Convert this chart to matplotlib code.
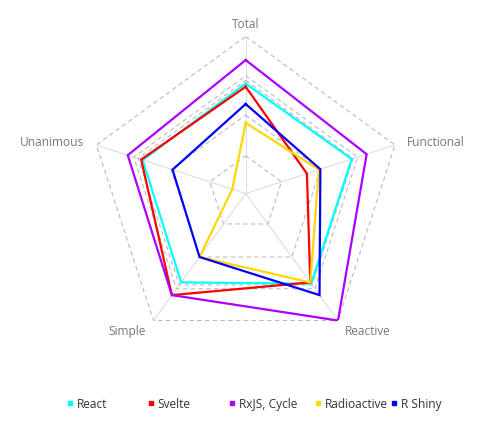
import matplotlib.pyplot as plt
import numpy as np
from matplotlib.lines import Line2D

plt.rcParams['font.family'] = ['Open Sans', 'DejaVu Sans']

# axes of the radar, clockwise from the top
indicators = ['Total', 'Functional', 'Reactive', 'Simple', 'Unanimous']
maxValue = 100

# dashed rings (uneven)
ringLevels = [24, 50, 72, 75, 100]

seriesNames = ['React', 'Svelte', 'RxJS, Cycle', 'Radioactive', 'R Shiny']
seriesColors = ['#00ffff', '#ff0000', '#aa00ff', '#ffd700', '#0000ff']

reactVals = [70, 71, 71, 70, 69]
svelteVals = [68, 41, 70, 80, 70]
rxjsVals = [85, 81, 100, 80, 79]
radioactiveVals = [45, 49, 70, 50, 9]
shinyVals = [57, 50, 80, 50, 49]

allVals = [reactVals, svelteVals, rxjsVals, radioactiveVals, shinyVals]

# legend entries: left edge in pixels
legendX = [66, 147, 228, 314, 390]

W, H = 497, 427
fig = plt.figure(figsize=(W / 100, H / 100), dpi=100)

cx, cy, R = 245.7, 194.5, 157
ax = fig.add_axes([(cx - R) / W, (H - cy - R) / H, 2 * R / W, 2 * R / H], projection='polar')
ax.set_theta_offset(np.pi / 2)
ax.set_theta_direction(-1)
ax.set_ylim(0, maxValue)
ax.set_xticks([])
ax.set_yticks([])
ax.grid(False)
ax.spines['polar'].set_visible(False)
ax.patch.set_alpha(0)

n = len(indicators)
theta = np.arange(n) * 2 * np.pi / n
thetaClosed = np.append(theta, theta[0])

for t in theta:
    ax.plot([t, t], [0, maxValue], color='#dddddd', lw=0.8, zorder=1)

for lvl in ringLevels:
    ax.plot(thetaClosed, [lvl] * (n + 1), color='#bbbbbb', lw=0.8,
            linestyle=(0, (4, 3)), zorder=1)

for vals, col in zip(allVals, seriesColors):
    ax.plot(thetaClosed, vals + vals[:1], color=col, lw=1.6, zorder=3,
            solid_joinstyle='miter')

for t, name in zip(theta, indicators):
    s = np.sin(t)
    if abs(s) < 0.01:
        ha = 'center'
        r = 108.5
    elif s > 0:
        ha = 'left'
        r = 108
    else:
        ha = 'right'
        r = 108
    ax.text(t, r, name, ha=ha, va='center', fontsize=8.6, color='#777777',
            clip_on=False)

for name, col, x in zip(seriesNames, seriesColors, legendX):
    h = Line2D([], [], marker='s', color=col, linestyle='none', markersize=3)
    fig.legend(handles=[h], labels=[name], loc='center left',
               bbox_to_anchor=(x / W, 1 - 405 / H), frameon=False,
               fontsize=8.6, borderpad=0, borderaxespad=0,
               handlelength=0.6, handletextpad=0.3, labelcolor='#333333')

fig.savefig('out.png', dpi=100)
